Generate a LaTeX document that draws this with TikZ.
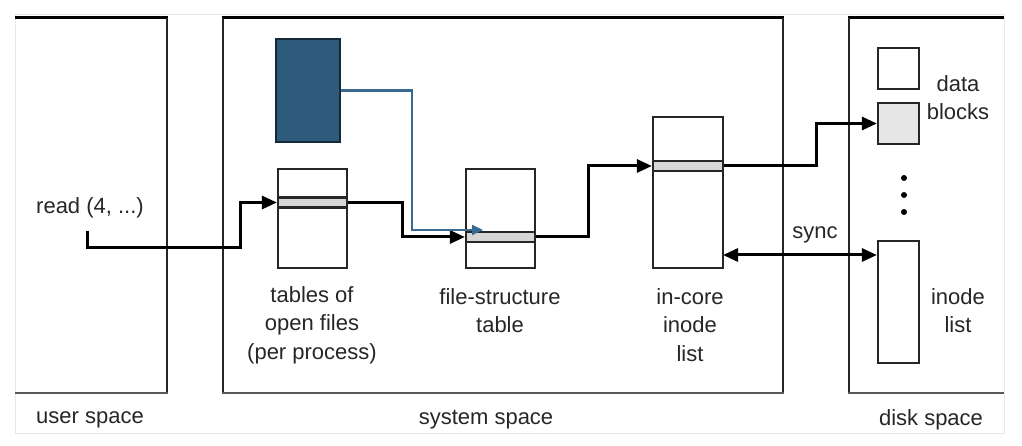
\documentclass[tikz,border=0pt]{standalone}
\usepackage{fontspec}
\setmainfont{Liberation Sans}
\usetikzlibrary{arrows.meta}
\definecolor{txt}{HTML}{262626}
\definecolor{darkfill}{HTML}{2E5B7B}
\definecolor{darkedge}{HTML}{15293A}
\definecolor{bluearrow}{HTML}{3A6A90}
\definecolor{rowgray}{HTML}{D6D6D6}
\definecolor{blockgray}{HTML}{E6E6E6}
\definecolor{framegray}{HTML}{E8E8E8}
\tikzset{
  lbl/.style={inner sep=0pt, text=txt, align=center, font=\fontsize{22}{28.5}\selectfont},
  tbl/.style={draw=black!85, line width=2.2pt, fill=white, inner sep=0pt, minimum width=#1},
  tbl/.default=69pt,
  rowbox/.style={draw=black!85, line width=2.2pt, fill=rowgray, inner sep=0pt, minimum width=#1, minimum height=10pt},
  rowbox/.default=69pt,
  blockbox/.style={draw=black!85, line width=2.2pt, inner sep=0pt, minimum width=41pt},
  conn/.style={draw=black, line width=3pt, -{Triangle[length=15pt,width=13pt]}},
  bconn/.style={draw=bluearrow, line width=2.2pt, -{Triangle[length=11pt,width=10pt]}},
  topline/.style={draw=black, line width=3pt},
  sideline/.style={draw=black!85, line width=2.2pt},
  botline/.style={draw=black!65, line width=2pt},
}
\begin{document}
\begin{tikzpicture}[x=1pt,y=-1pt]
\useasboundingbox (0,0) rectangle (1022,446);
% outer faint frame
\draw[framegray, line width=1pt] (15,15) rectangle (1004,433);
% user space
\draw[topline] (15,18) -- (168,18);
\draw[sideline] (167,18) -- (167,393);
\draw[botline] (15,393) -- (168,393);
% system space
\draw[topline] (222,18) -- (784,18);
\draw[sideline] (223,18) -- (223,393);
\draw[sideline] (783,18) -- (783,393);
\draw[botline] (222,393) -- (784,393);
% disk space
\draw[topline] (848,18) -- (1004,18);
\draw[sideline] (849,18) -- (849,393);
\draw[botline] (848,393) -- (1004,393);

% region labels
\node[lbl] (lu) at (90,420) {user space};
\node[lbl] (ls) at (486,420) {system space};
\node[lbl] (ld) at (931,420) {disk space};

% dark box
\node[draw=darkedge, line width=2.6pt, fill=darkfill, inner sep=0pt, minimum width=64pt, minimum height=103pt] (dark) at (308,90.5) {};

% open files table
\node[tbl, minimum height=99pt] (of) at (312.5,218.5) {};
\node[rowbox] (ofrow) at (312.5,202.5) {};
\node[lbl] (oflbl) at (312,325) {tables of\\open files\\(per process)};

% file structure table
\node[tbl, minimum height=99pt] (fs) at (500.5,218.5) {};
\node[rowbox] (fsrow) at (500.5,237) {};
\node[lbl] (fslbl) at (500,310.5) {file-structure\\table};

% in-core inode list
\node[tbl=70pt, minimum height=151pt] (in) at (688,192.5) {};
\node[rowbox=70pt] (inrow) at (688,166) {};
\node[lbl] (inlbl) at (690,325) {in-core\\inode\\list};

% disk blocks
\node[blockbox, fill=white, minimum height=41pt] (db1) at (898.5,68.5) {};
\node[blockbox, fill=blockgray, minimum height=41pt] (db2) at (898.5,123.5) {};
\node[lbl] (dblbl) at (958,97.5) {data\\blocks};
\node[blockbox, fill=white, minimum height=122pt] (il) at (898.5,302) {};
\node[lbl] (illbl) at (958,310.5) {inode\\list};
\foreach \yy/\nm in {178/d1,195/d2,212/d3}
  \node[circle, fill=black, inner sep=0pt, minimum size=6pt] (\nm) at (904,\yy) {};

% read call
\node[lbl] (read) at (90,208) {read (4, ...)};
\coordinate (rd) at (87,231);

% connectors
\draw[conn] (rd) |- (240,248) |- (ofrow.west);
\draw[conn] (ofrow.east) -| (402,237) -- (fsrow.west);
\coordinate (bend) at (483,230);
\draw[bconn] (dark.east) -| (412,230) -- (bend);
\draw[conn] (fsrow.east) -| (588,166) -- (inrow.west);
\draw[conn] (inrow.east) -| (816,123.5) -- (db2.west);
\coordinate (s1) at (723,255);
\draw[conn, {Triangle[length=15pt,width=13pt]}-{Triangle[length=15pt,width=13pt]}] (s1) -- (s1 -| il.west);
\node[lbl] (sync) at (815,235) {sync};
\end{tikzpicture}
\end{document}
